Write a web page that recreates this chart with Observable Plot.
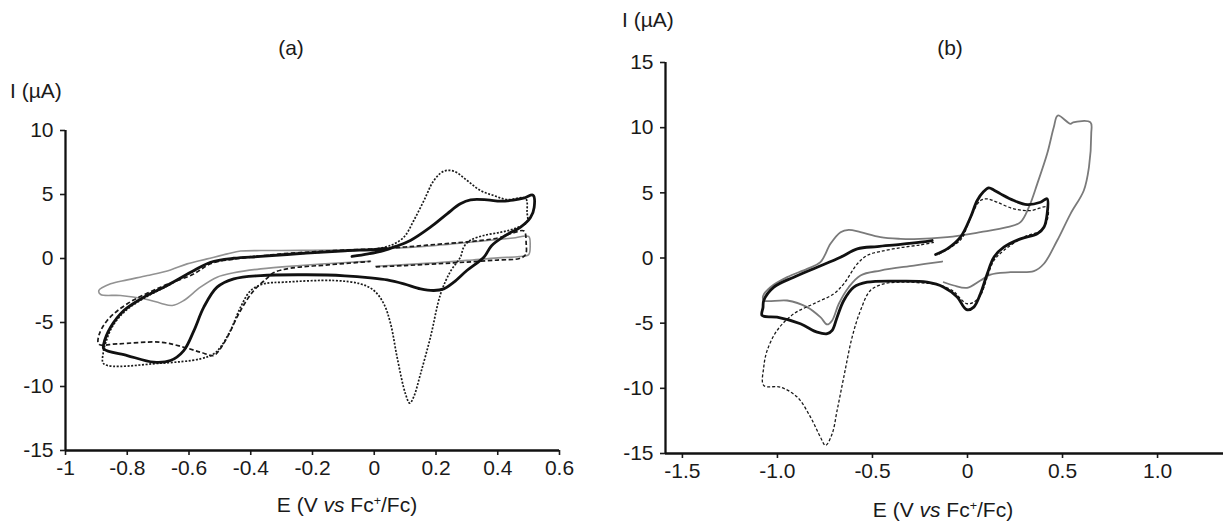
<!DOCTYPE html>
<html>
<head>
<meta charset="utf-8">
<script src="https://cdn.jsdelivr.net/npm/d3@7"></script>
<script src="https://cdn.jsdelivr.net/npm/@observablehq/plot@0.6"></script>
<style>
  html, body { margin: 0; padding: 0; background: #fff; }
  #wrap { position: relative; width: 1223px; height: 522px; overflow: hidden; font-family: "Liberation Sans", Arial, sans-serif; color: #1a1a1a; }
  .pl { position: absolute; top: 0; }
  .lbl { position: absolute; font-size: 21px; white-space: nowrap; transform: translate(-50%, -50%); }
  .lbl.left { transform: translate(0, -50%); }
  sup { font-size: 0.6em; vertical-align: 0.55em; line-height: 0; }
</style>
</head>
<body>
<div id="wrap"></div>
<script>
// ---------- Panel (a) data: [E (V vs Fc+/Fc), I (µA)] ----------
const aTicksX = [-1, -0.8, -0.6, -0.4, -0.2, 0, 0.2, 0.4, 0.6];
const aTicksY = [10, 5, 0, -5, -10, -15];

const aSolid = [
  [-0.072,0.16],[-0.02,0.36],[0.03,0.62],[0.07,0.95],[0.117,1.41],[0.182,2.45],[0.236,3.49],[0.279,4.27],
  [0.312,4.58],[0.366,4.58],[0.409,4.48],[0.45,4.56],[0.487,4.74],[0.514,4.95],[0.518,4.0],[0.506,3.2],
  [0.475,2.47],[0.425,1.8],[0.38,1.0],[0.355,0.1],[0.30,-0.94],[0.258,-1.85],[0.225,-2.37],[0.193,-2.5],
  [0.15,-2.37],[0.096,-1.98],[0.042,-1.67],[-0.012,-1.51],[-0.095,-1.35],[-0.22,-1.27],[-0.368,-1.33],
  [-0.455,-1.59],[-0.509,-2.24],[-0.552,-3.8],[-0.584,-5.63],[-0.617,-7.19],[-0.66,-7.97],[-0.714,-8.1],
  [-0.80,-7.58],[-0.876,-7.06],[-0.876,-6.67],[-0.854,-5.37],[-0.811,-4.06],[-0.746,-3.02],[-0.671,-2.11],
  [-0.584,-0.94],[-0.53,-0.29],[-0.455,0.02],[-0.368,0.16],[-0.22,0.42],[-0.095,0.6],[0.0,0.7],[0.04,0.78]
];
const aGray = [
  [0.005,-0.6],[0.1,-0.48],[0.2,-0.33],[0.3,-0.15],[0.4,0.05],[0.47,0.15],[0.5,0.3],[0.505,1.0],[0.5,1.72],
  [0.45,1.6],[0.4,1.48],[0.3,1.25],[0.2,1.02],[0.1,0.85],[0,0.74],[-0.1,0.68],[-0.2,0.64],[-0.3,0.62],
  [-0.368,0.62],[-0.433,0.58],[-0.476,0.36],[-0.541,-0.03],[-0.606,-0.42],[-0.66,-0.89],[-0.735,-1.33],
  [-0.80,-1.67],[-0.854,-1.98],[-0.892,-2.5],[-0.886,-2.81],[-0.822,-2.89],[-0.746,-3.15],[-0.692,-3.49],
  [-0.654,-3.67],[-0.617,-3.28],[-0.563,-2.24],[-0.509,-1.46],[-0.455,-1.12],[-0.368,-0.81],[-0.239,-0.55],
  [-0.077,-0.29],[-0.012,-0.21]
];
const aDashed = [
  [0.005,-0.65],[0.1,-0.55],[0.2,-0.42],[0.3,-0.28],[0.4,-0.12],[0.47,0.0],[0.49,0.3],[0.492,1.2],[0.485,2.15],
  [0.45,2.0],[0.4,1.6],[0.3,1.3],[0.2,1.1],[0.1,0.9],[0.0,0.75],[-0.1,0.66],[-0.2,0.52],[-0.3,0.36],[-0.4,0.1],
  [-0.455,-0.05],[-0.53,-0.4],[-0.584,-1.2],[-0.692,-2.24],[-0.8,-3.54],[-0.865,-4.84],[-0.892,-6.02],
  [-0.892,-6.7],[-0.833,-6.67],[-0.692,-6.54],[-0.617,-6.93],[-0.563,-7.32],[-0.52,-7.58],[-0.503,-7.19],
  [-0.476,-6.15],[-0.433,-4.06],[-0.39,-2.5],[-0.35,-1.6],[-0.325,-1.1],[-0.271,-0.76],[-0.15,-0.5],
  [-0.05,-0.3],[-0.012,-0.22]
];
const aDotted = [
  [0,0.72],[0.053,1.02],[0.096,1.67],[0.128,2.97],[0.161,4.53],[0.193,6.09],[0.225,6.82],[0.258,6.82],
  [0.301,6.09],[0.344,5.31],[0.387,4.92],[0.43,4.6],[0.49,4.7],[0.495,3.6],[0.495,2.84],[0.45,2.3],
  [0.409,2.05],[0.355,1.8],[0.31,1.41],[0.29,0.9],[0.279,0.1],[0.247,-1.0],[0.215,-2.76],[0.182,-6.15],
  [0.15,-9.0],[0.128,-10.8],[0.115,-11.3],[0.101,-10.57],[0.074,-7.71],[0.053,-5.1],[0.031,-3.54],
  [-0.001,-2.5],[-0.045,-1.98],[-0.131,-1.72],[-0.293,-1.85],[-0.358,-1.98],[-0.40,-2.5],[-0.433,-3.8],
  [-0.466,-5.63],[-0.498,-6.93],[-0.52,-7.45],[-0.563,-7.84],[-0.692,-8.18],[-0.876,-8.23],[-0.878,-7.4],
  [-0.87,-6.6],[-0.85,-5.4],[-0.811,-4.2],[-0.746,-3.1],[-0.671,-2.15],[-0.584,-0.98],[-0.53,-0.32],
  [-0.455,0.0],[-0.368,0.2],[-0.2,0.45],[-0.1,0.6],[0,0.72]
];

// ---------- Panel (b) data ----------
const bTicksX = [-1.5, -1.0, -0.5, 0, 0.5, 1.0];
const bTicksY = [15, 10, 5, 0, -5, -10, -15];

const bSolid = [
  [-0.168,0.27],[-0.107,0.7],[-0.037,1.6],[0.016,3.13],[0.051,4.41],[0.085,5.1],[0.112,5.38],[0.14,5.2],
  [0.174,4.92],[0.244,4.41],[0.314,4.1],[0.384,4.28],[0.419,4.54],[0.419,3.39],[0.402,2.36],[0.367,1.86],
  [0.279,1.47],[0.191,0.83],[0.139,0.06],[0.104,-1.21],[0.068,-2.75],[0.033,-3.77],[-0.002,-3.97],
  [-0.019,-3.77],[-0.054,-3.0],[-0.125,-2.24],[-0.212,-1.86],[-0.353,-1.78],[-0.528,-1.86],[-0.598,-2.24],
  [-0.651,-3.26],[-0.686,-4.54],[-0.712,-5.56],[-0.738,-5.81],[-0.791,-5.69],[-0.879,-5.05],[-1.002,-4.54],
  [-1.081,-4.41],[-1.076,-3.8],[-1.072,-3.26],[-1.019,-2.24],[-0.914,-1.47],[-0.791,-0.71],[-0.668,0.06],
  [-0.58,0.70],[-0.475,0.88],[-0.353,1.04],[-0.247,1.21],[-0.186,1.34]
];
const bGray = [
  [-0.133,-0.27],[-0.282,-0.58],[-0.458,-0.96],[-0.563,-1.34],[-0.625,-2.24],[-0.677,-3.51],[-0.712,-4.79],
  [-0.738,-5.1],[-0.774,-4.54],[-0.844,-3.77],[-0.949,-3.26],[-1.072,-3.26],[-1.075,-2.9],[-1.037,-2.24],
  [-0.949,-1.47],[-0.844,-0.83],[-0.774,-0.32],[-0.721,1.09],[-0.668,1.98],[-0.625,2.16],[-0.563,1.98],
  [-0.458,1.6],[-0.353,1.47],[-0.282,1.45],[-0.107,1.6],[0.068,1.98],[0.209,2.36],[0.279,2.75],[0.323,3.9],
  [0.367,5.69],[0.419,7.99],[0.454,10.03],[0.475,10.93],[0.542,10.29],[0.556,10.41],[0.647,10.41],
  [0.651,9.52],[0.639,6.96],[0.612,5.18],[0.542,3.39],[0.472,1.34],[0.402,-0.44],[0.349,-1.01],
  [0.226,-1.09],[0.121,-1.27],[0.068,-1.73],[-0.002,-2.29],[-0.072,-2.11],[-0.125,-1.86]
];
const bDashed = [
  [-0.15,0.3],[-0.1,0.7],[-0.03,1.5],[0.0,2.5],[0.033,3.64],[0.068,4.41],[0.104,4.54],[0.156,4.28],
  [0.244,3.77],[0.332,3.64],[0.419,3.9],[0.419,2.88],[0.384,2.11],[0.296,1.6],[0.191,0.58],[0.139,-0.19],
  [0.104,-1.47],[0.068,-2.88],[0.033,-3.39],[-0.002,-3.51],[-0.037,-3.13],[-0.07,-2.6],[-0.14,-2.1],
  [-0.25,-1.9],[-0.353,-1.85],[-0.44,-1.98],[-0.511,-2.49],[-0.563,-4.03],[-0.607,-6.07],[-0.651,-9.14],
  [-0.686,-11.69],[-0.712,-13.48],[-0.747,-14.38],[-0.774,-13.74],[-0.826,-12.21],[-0.896,-10.67],
  [-0.984,-9.91],[-1.072,-9.78],[-1.072,-8.37],[-1.054,-7.09],[-1.002,-5.56],[-0.914,-4.28],[-0.809,-3.51],
  [-0.704,-2.75],[-0.651,-1.98],[-0.58,-0.45],[-0.528,0.2],[-0.458,0.5],[-0.35,0.8],[-0.25,1.0],[-0.177,1.2]
];

const fontStack = "'Liberation Sans', Arial, sans-serif";
const E = d => d[0], I = d => d[1];
const fmtA = d => String(d);
const fmtB = d => d === 0 ? "0" : d.toFixed(1);

function line(data, stroke, width, dash) {
  return Plot.line(data, {x: E, y: I, curve: "catmull-rom", stroke, strokeWidth: width,
    strokeDasharray: dash, strokeLinejoin: "round", strokeLinecap: dash ? "butt" : "round"});
}

const axisStyle = {fontSize: 21, fill: "#1a1a1a", strokeWidth: 1.6, label: null};

const plotA = Plot.plot({
  width: 610, height: 522,
  marginLeft: 65, marginRight: 51, marginTop: 130, marginBottom: 72,
  x: {domain: [-1, 0.6], label: null},
  y: {domain: [-15, 10], label: null},
  style: {fontFamily: fontStack, fontSize: "21px", color: "#1a1a1a", background: "transparent", overflow: "visible"},
  marks: [
    Plot.axisX({...axisStyle, ticks: aTicksX, tickFormat: fmtA, tickSize: 5, tickPadding: 5}),
    Plot.axisY({...axisStyle, ticks: aTicksY, tickFormat: fmtA, tickSize: 5, tickPadding: 7}),
    Plot.ruleY([-15], {stroke: "#111", strokeWidth: 2.3}),
    Plot.ruleX([-1], {stroke: "#111", strokeWidth: 2.3}),
    line(aGray, "#929292", 1.6),
    line(aDashed, "#1a1a1a", 1.7, "4.5,2.5"),
    line(aDotted, "#1a1a1a", 1.7, "2,1.6"),
    line(aSolid, "#111", 2.8)
  ]
});

const plotB = Plot.plot({
  width: 623, height: 522,
  marginLeft: 65, marginRight: 0, marginTop: 62, marginBottom: 69,
  x: {domain: [-1.589, 1.347], label: null},
  y: {domain: [-15, 15], label: null},
  style: {fontFamily: fontStack, fontSize: "21px", color: "#1a1a1a", background: "transparent", overflow: "visible"},
  marks: [
    Plot.axisX({...axisStyle, ticks: bTicksX, tickFormat: fmtB, tickSize: 5, tickPadding: 5}),
    Plot.axisY({...axisStyle, ticks: bTicksY, tickFormat: fmtA, tickSize: 5, tickPadding: 7}),
    Plot.ruleY([-15], {stroke: "#111", strokeWidth: 2.3}),
    Plot.ruleX([-1.589], {stroke: "#111", strokeWidth: 2.3}),
    line(bGray, "#7a7a7a", 1.8),
    line(bDashed, "#1a1a1a", 1.3, "3,2"),
    line(bSolid, "#111", 2.8)
  ]
});

const wrap = document.getElementById("wrap");
plotA.classList.add("pl"); plotA.style.left = "0px";
plotB.classList.add("pl"); plotB.style.left = "600px";
wrap.appendChild(plotA);
wrap.appendChild(plotB);

function addLabel(html, x, y, cls) {
  const d = document.createElement("div");
  d.className = "lbl" + (cls ? " " + cls : "");
  d.style.left = x + "px"; d.style.top = y + "px";
  d.innerHTML = html;
  wrap.appendChild(d);
}
const xTitle = "E (V <i>vs</i> Fc<sup>+</sup>/Fc)";
addLabel("(a)", 291, 48);
addLabel("I (µA)", 10, 91, "left");
addLabel(xTitle, 347, 505);
addLabel("(b)", 950, 48);
addLabel("I (µA)", 622, 20, "left");
addLabel(xTitle, 943, 510);
</script>
</body>
</html>
